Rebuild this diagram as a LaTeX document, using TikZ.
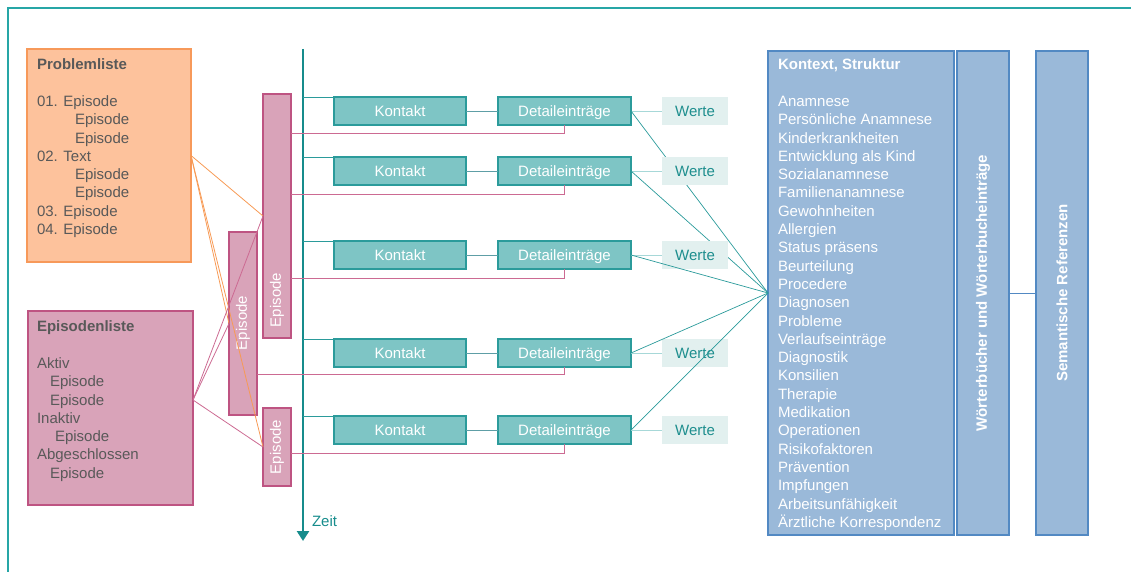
\documentclass[tikz,border=0pt]{standalone}
\usepackage{fontspec}
\setmainfont{Liberation Sans}
\usetikzlibrary{arrows.meta}
\definecolor{frameteal}{HTML}{26A6A6}
\definecolor{timeteal}{HTML}{168C8C}
\definecolor{kfill}{HTML}{7EC5C5}
\definecolor{kdraw}{HTML}{2B9B9B}
\definecolor{wfill}{HTML}{E2F0EF}
\definecolor{wtext}{HTML}{1E8E8E}
\definecolor{kdline}{HTML}{5E9EA6}
\definecolor{dwline}{HTML}{A7D8D8}
\definecolor{dcline}{HTML}{2A9A9A}
\definecolor{pfill}{HTML}{D9A3B9}
\definecolor{pdraw}{HTML}{BE5482}
\definecolor{pline}{HTML}{CC6A92}
\definecolor{ofill}{HTML}{FDC29C}
\definecolor{odraw}{HTML}{F7995A}
\definecolor{oline}{HTML}{F79A55}
\definecolor{bfill}{HTML}{9AB9D9}
\definecolor{bdraw}{HTML}{5289C3}
\definecolor{gtext}{HTML}{595959}
\begin{document}
\begin{tikzpicture}[x=1pt,y=-1pt,
  base/.style={font=\fontsize{15}{18.3}\selectfont, inner sep=0pt, outer sep=0pt},
  obox/.style={base, draw=odraw, fill=ofill, line width=1.2pt, anchor=north west},
  pbox/.style={base, draw=pdraw, fill=pfill, line width=1.2pt, anchor=north west},
  bbox/.style={base, draw=bdraw, fill=bfill, line width=1.2pt, anchor=north west},
  listtext/.style={base, align=left, anchor=north west, text=gtext},
  epitext/.style={base, rotate=90, text=white},
  kontakt/.style={base, draw=kdraw, fill=kfill, line width=1.2pt, text=white, minimum width=132pt, minimum height=28pt, text height=11.5pt, text depth=0.5pt},
  werte/.style={base, fill=wfill, text=wtext, minimum width=66pt, minimum height=28pt, text height=11.5pt, text depth=0.5pt},
  kdconn/.style={draw=kdline, line width=0.9pt},
  dwconn/.style={draw=dwline, line width=0.9pt},
  dcconn/.style={draw=dcline, line width=0.7pt},
  pconn/.style={draw=pline, line width=0.8pt},
  oconn/.style={draw=oline, line width=0.8pt},
  tconn/.style={draw=kdraw, line width=0.9pt},
  bconn/.style={draw=bdraw, line width=0.9pt},
]
\useasboundingbox (0,0) rectangle (1131,572);
% frame
\draw[frameteal, line width=1.5pt] (8,572) -- (8,8) -- (1131,8);

% left lists
\node[obox, minimum width=164pt, minimum height=213pt] (pl) at (27,49) {};
\node[listtext] (plt) at (37,59) {\textbf{Problemliste}\\[18.3pt]01. Episode\\\hspace*{38pt}Episode\\\hspace*{38pt}Episode\\02. Text\\\hspace*{38pt}Episode\\\hspace*{38pt}Episode\\03. Episode\\04. Episode};

\node[pbox, minimum width=165pt, minimum height=194pt] (el) at (28,311) {};
\node[listtext] (elt) at (37,321) {\textbf{Episodenliste}\\[18.3pt]Aktiv\\\hspace*{13pt}Episode\\\hspace*{13pt}Episode\\Inaktiv\\\hspace*{18pt}Episode\\Abgeschlossen\\\hspace*{13pt}Episode};

% episodes
\node[pbox, minimum width=28pt, minimum height=244pt] (e1) at (263,94) {};
\node[epitext] (e1t) at (277,300) {Episode};
\node[pbox, minimum width=28pt, minimum height=183pt] (e2) at (229,232) {};
\node[epitext] (e2t) at (243,323) {Episode};
\node[pbox, minimum width=28pt, minimum height=78pt] (e3) at (263,408) {};
\node[epitext] (e3t) at (277,447) {Episode};

% list to episode links
\draw[oconn] (pl.east) -- (e1.west);
\draw[oconn] (pl.east) -- (e2.west);
\draw[oconn] (pl.east) -- (e3.west);
\coordinate (elp) at (193,400);
\draw[pconn] (elp) -- (e1.west);
\draw[pconn] (elp) -- (e2.west);
\draw[pconn] (elp) -- (e3.west);

% timeline
\coordinate (tl0) at (303,49);
\coordinate (tl1) at (303,541);
\draw[timeteal, line width=2.6pt, -{Triangle[width=12pt,length=10pt]}] (tl0) -- (tl1);
\node[base, text=timeteal, anchor=west] (zeit) at (312,521) {Zeit};

% right boxes
\node[bbox, minimum width=186pt, minimum height=484pt] (ctx) at (768,51) {};
\node[listtext, text=white] (ctxt) at (778,59) {\textbf{Kontext, Struktur}\\[18.3pt]Anamnese\\Persönliche Anamnese\\Kinderkrankheiten\\Entwicklung als Kind\\Sozialanamnese\\Familienanamnese\\Gewohnheiten\\Allergien\\Status präsens\\Beurteilung\\Procedere\\Diagnosen\\Probleme\\Verlaufseinträge\\Diagnostik\\Konsilien\\Therapie\\Medikation\\Operationen\\Risikofaktoren\\Prävention\\Impfungen\\Arbeitsunfähigkeit\\Ärztliche Korrespondenz};
\node[bbox, minimum width=52pt, minimum height=484pt] (wb) at (957,51) {};
\node[epitext, font=\fontsize{15}{18}\selectfont\bfseries] (wbt) at (983,293) {Wörterbücher und Wörterbucheinträge};
\node[bbox, minimum width=52pt, minimum height=484pt] (sr) at (1036,51) {};
\node[epitext, font=\fontsize{15}{18}\selectfont\bfseries] (srt) at (1062,293) {Semantische Referenzen};
\draw[bconn] (wb.east |- 0,293) -- (sr.west |- 0,293);

% rows
\foreach \i/\y/\ep/\py in {1/111/e1/133, 2/171/e1/194, 3/255/e1/278, 4/353/e2/374, 5/430/e3/453} {
  \node[kontakt] (k\i) at (400,\y) {Kontakt};
  \node[kontakt, minimum width=133pt] (d\i) at (564.5,\y) {Detaileinträge};
  \node[werte] (w\i) at (695,\y) {Werte};
  \coordinate (t\i) at (303,\y-14);
  \draw[tconn] (t\i) -- (k\i.north west);
  \draw[kdconn] (k\i.east) -- (d\i.west);
  \draw[dwconn] (d\i.east) -- (w\i.west);
  \draw[pconn] (\ep.east |- 0,\py) -| (d\i.south);
  \draw[dcconn] (d\i.east) -- (ctx.west);
}
\end{tikzpicture}
\end{document}
